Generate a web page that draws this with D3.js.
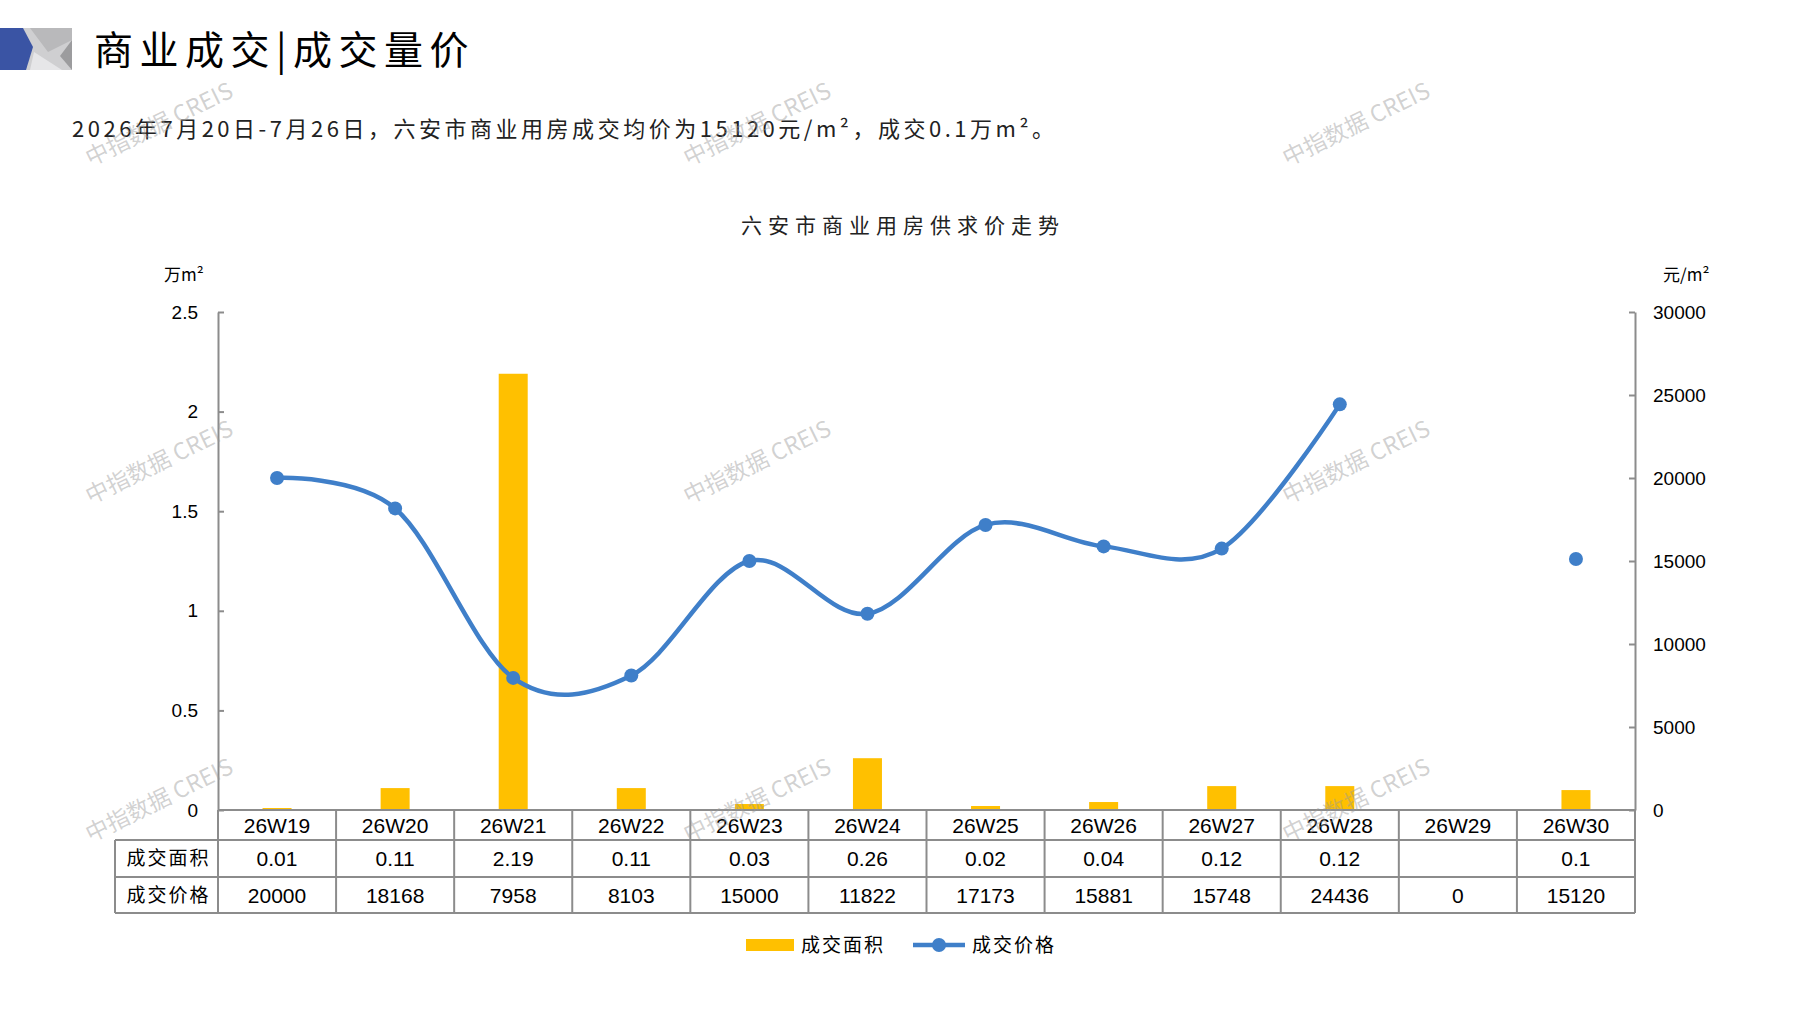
<!DOCTYPE html>
<html>
<head>
<meta charset="utf-8">
<script src="https://cdn.jsdelivr.net/npm/d3@7"></script>
<style>
  body { margin: 0; background: #fff; }
  svg { display: block; }
  .cjk { font-family: "Noto Sans CJK SC", "Noto Sans", sans-serif; }
  .num { font-family: "Liberation Sans Narrow", "Liberation Sans", sans-serif; }
  .tick text { font-family: "Liberation Sans", Arial, sans-serif; font-size: 19px; fill: #000; }
  .axis path, .axis line { stroke: #8c8c8c; stroke-width: 2; }
</style>
</head>
<body>
<div class="container"></div>
<script>
// data
weeks = ["26W19","26W20","26W21","26W22","26W23","26W24","26W25","26W26","26W27","26W28","26W29","26W30"];
area  = [0.01, 0.11, 2.19, 0.11, 0.03, 0.26, 0.02, 0.04, 0.12, 0.12, null, 0.1];
price = [20000, 18168, 7958, 8103, 15000, 11822, 17173, 15881, 15748, 24436, 0, 15120];
areaTicks  = [0, 0.5, 1, 1.5, 2, 2.5];
priceTicks = [0, 5000, 10000, 15000, 20000, 25000, 30000];
rowLabels = ["成交面积", "成交价格"];

svgwidth = 1797;
svgheight = 1010;
plot = {left: 218, right: 1635, top: 312, bottom: 810};
rows = [810, 840, 877, 913];   // table row edges
tableLeft = 115;

svg = d3.select('.container')
    .append("svg")
    .attr("width", svgwidth)
    .attr("height", svgheight);

// header icon
icon = svg.append("g");
icon.append("rect").attr("x",0).attr("y",28).attr("width",72).attr("height",42).attr("fill","#cfcfd1");
icon.append("polygon").attr("points","30,28 72,28 72,40 48,52").attr("fill","#b9b9bb");
icon.append("polygon").attr("points","34,52 62,70 30,70").attr("fill","#e6e6e8");
icon.append("polygon").attr("points","72,40 60,56 72,70").attr("fill","#9c9c9e");
icon.append("polygon").attr("points","0,28 23,28 33,47 26,70 0,70").attr("fill","#3a54a4");

// title + subtitle
svg.append("text").attr("class","cjk")
    .attr("x", 94).attr("y", 64)
    .attr("font-size", "39px").attr("letter-spacing", "6.5px")
    .text("商业成交|成交量价");

svg.append("text").attr("class","cjk")
    .attr("x", 72).attr("y", 137)
    .attr("font-size", "22px").attr("fill", "#222")
    .attr("textLength", 982).attr("lengthAdjust", "spacing")
    .text("2026年7月20日-7月26日，六安市商业用房成交均价为15120元/m²，成交0.1万m²。");

svg.append("text").attr("class","cjk")
    .attr("x", 903).attr("y", 233)
    .attr("text-anchor", "middle")
    .attr("font-size", "21px").attr("letter-spacing", "6px").attr("fill", "#222")
    .text("六安市商业用房供求价走势");

// unit labels
svg.append("text").attr("class","cjk")
    .attr("x", 164).attr("y", 281).attr("font-size", "17px")
    .text("万m²");
svg.append("text").attr("class","cjk")
    .attr("x", 1663).attr("y", 281).attr("font-size", "17px")
    .text("元/m²");

// scales
posX = d3.scaleBand()
    .domain(weeks)
    .range([plot.left, plot.right]);
posY = d3.scaleLinear()
    .domain([0, 2.5])
    .range([plot.bottom, plot.top]);
posY2 = d3.scaleLinear()
    .domain([0, 30000])
    .range([plot.bottom, plot.top]);

// bars
barW = 29;
svg.selectAll('.bar')
    .data(weeks.map(function(w, i){ return {week: w, v: area[i]}; }).filter(function(d){ return d.v != null; }))
    .enter()
    .append("rect")
        .attr("class", "bar")
        .attr("x", function(d){ return posX(d.week) + posX.bandwidth()/2 - barW/2; })
        .attr("y", function(d){ return posY(d.v); })
        .attr("width", barW)
        .attr("height", function(d){ return posY(0) - posY(d.v); })
        .attr("fill", "#ffc000");

// price line (0 = no deal, left as a gap)
pts = weeks.map(function(w, i){ return {week: w, v: price[i]}; });
line = d3.line()
    .defined(function(d){ return d.v > 0; })
    .x(function(d){ return posX(d.week) + posX.bandwidth()/2; })
    .y(function(d){ return posY2(d.v); })
    .curve(d3.curveCatmullRom.alpha(0));

svg.append("path")
    .datum(pts)
    .attr("d", line)
    .attr("fill", "none")
    .attr("stroke", "#3f7fc9")
    .attr("stroke-width", 4.5);

svg.selectAll('.marker')
    .data(pts.filter(function(d){ return d.v > 0; }))
    .enter()
    .append("circle")
        .attr("class", "marker")
        .attr("cx", function(d){ return posX(d.week) + posX.bandwidth()/2; })
        .attr("cy", function(d){ return posY2(d.v); })
        .attr("r", 7)
        .attr("fill", "#3f7fc9");

// axes
svg.append("g")
    .attr("class", "axis")
    .attr("transform", "translate(" + plot.left + ",0)")
    .call(d3.axisLeft(posY).tickValues(areaTicks).tickSizeInner(-6).tickSizeOuter(0).tickPadding(20)
        .tickFormat(function(d){ return d === 0 ? "0" : d3.format(".1f")(d).replace(".0", ""); }));
svg.append("g")
    .attr("class", "axis")
    .attr("transform", "translate(" + plot.right + ",0)")
    .call(d3.axisRight(posY2).tickValues(priceTicks).tickSizeInner(-6).tickSizeOuter(0).tickPadding(18)
        .tickFormat(d3.format("d")));

// data table under the plot
grid = svg.append("g").attr("stroke", "#8c8c8c").attr("stroke-width", 2);
grid.append("line").attr("x1", plot.left).attr("x2", plot.right).attr("y1", rows[0]).attr("y2", rows[0]);
rows.slice(1).forEach(function(y){
    grid.append("line").attr("x1", tableLeft).attr("x2", plot.right).attr("y1", y).attr("y2", y);
});
grid.append("line").attr("x1", tableLeft).attr("x2", tableLeft).attr("y1", rows[1]).attr("y2", rows[3]);
weeks.concat([null]).forEach(function(w){
    var x = w ? posX(w) : plot.right;
    grid.append("line").attr("x1", x).attr("x2", x).attr("y1", rows[0]).attr("y2", rows[3]);
});

rowText = [weeks, area.map(function(v){ return v == null ? "" : String(v); }), price.map(String)];
rowText.forEach(function(vals, r){
    svg.selectAll(".cell" + r)
        .data(vals)
        .enter()
        .append("text")
            .attr("class", "num")
            .attr("x", function(d, i){ return posX(weeks[i]) + posX.bandwidth()/2; })
            .attr("y", (rows[r] + rows[r+1]) / 2)
            .attr("dy", "0.36em")
            .attr("text-anchor", "middle")
            .attr("font-size", "21px")
            .text(function(d){ return d; });
});
rowLabels.forEach(function(t, r){
    svg.append("text").attr("class", "cjk")
        .attr("x", (tableLeft + plot.left) / 2 + 2)
        .attr("y", (rows[r+1] + rows[r+2]) / 2)
        .attr("dy", "0.36em")
        .attr("text-anchor", "middle")
        .attr("font-size", "19px").attr("letter-spacing", "2px")
        .text(t);
});

// legend
lg = svg.append("g").attr("transform", "translate(0,945)");
lg.append("rect").attr("x", 746).attr("y", -6).attr("width", 48).attr("height", 12).attr("fill", "#ffc000");
lg.append("text").attr("class", "cjk").attr("x", 801).attr("dy", "0.36em")
    .attr("font-size", "19px").attr("letter-spacing", "2px").text("成交面积");
lg.append("line").attr("x1", 913).attr("x2", 965).attr("stroke", "#3f7fc9").attr("stroke-width", 4.5);
lg.append("circle").attr("cx", 939).attr("r", 7).attr("fill", "#3f7fc9");
lg.append("text").attr("class", "cjk").attr("x", 972).attr("dy", "0.36em")
    .attr("font-size", "19px").attr("letter-spacing", "2px").text("成交价格");

// watermarks
wmX = [159, 757, 1356];
wmY = [124, 462, 800];
wmY.forEach(function(y){
    wmX.forEach(function(x){
        svg.append("text").attr("class", "cjk")
            .attr("transform", "translate(" + x + "," + y + ") rotate(-26)")
            .attr("text-anchor", "middle").attr("dy", "0.36em")
            .attr("font-size", "23px")
            .attr("fill", "#9a9a9a").attr("fill-opacity", 0.45)
            .text("中指数据 CREIS");
    });
});
</script>
</body>
</html>
